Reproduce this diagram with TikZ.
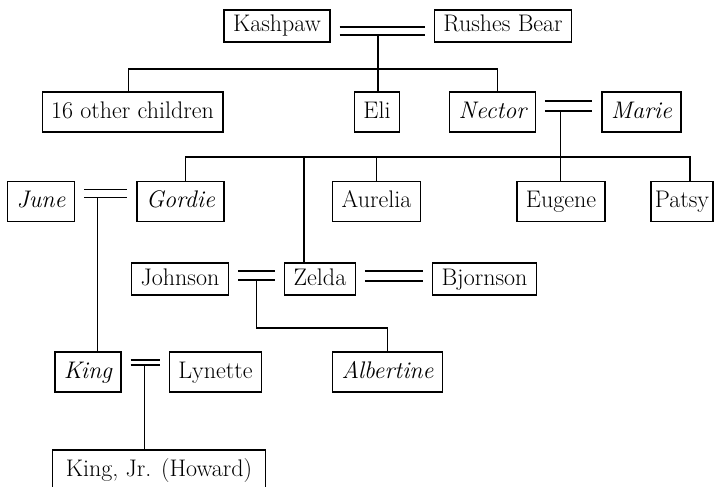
\documentclass[tikz,border=0pt]{standalone}
\usepackage{tikz}

\newcommand{\treefont}{\fontsize{24}{28}\selectfont}

\begin{document}
\begin{tikzpicture}[x=1pt, y=1pt, line width=1.3pt,
  person/.style={draw, font=\treefont, inner xsep=9pt, inner ysep=0pt,
                 text height=16pt, text depth=4pt, minimum height=32pt},
  tall/.style={person, minimum height=40pt},
  it/.style={font=\treefont\itshape},
  wed/.style={shorten <=9pt, shorten >=9pt}]

  % page frame
  \useasboundingbox (0,0) rectangle (718,-487);
  \clip (0,0) rectangle (718,-487);

  % First generation
  \node[person] (kashpaw) at (277,-26) {Kashpaw};
  \node[person] (rushes) at (503,-26) {Rushes Bear};

  % Second generation
  \node[tall] (other) at (132.5,-112) {16 other children};
  \node[tall] (eli) at (377,-112) {Eli};
  \node[tall, it] (nector) at (492.5,-112) {Nector};
  \node[tall, it] (marie) at (641.5,-112) {Marie};

  % Third generation
  \node[tall, it] (june) at (41,-201.5) {June};
  \node[tall, it] (gordie) at (180.5,-201.5) {Gordie};
  \node[tall] (aurelia) at (376.5,-201.5) {Aurelia};
  \node[tall] (eugene) at (561,-201.5) {Eugene};
  \node[tall, inner xsep=4pt] (patsy) at (682,-201.5) {Patsy};

  \node[person] (johnson) at (180,-279) {Johnson};
  \node[person] (zelda) at (320,-279) {Zelda};
  \node[person] (bjornson) at (484.5,-279) {Bjornson};

  % Fourth generation
  \node[tall, it] (king) at (88,-372) {King};
  \node[tall] (lynette) at (215.5,-372) {Lynette};
  \node[tall, it] (albertine) at (387.5,-372) {Albertine};

  \node[tall, inner xsep=13pt] (kingjr) at (159,-470) {King, Jr. (Howard)};

  % sibling bars and drop points
  \coordinate (barA) at (0,-69);
  \coordinate (barB) at (0,-157);
  \coordinate (barC) at (0,-328);
  \coordinate (od) at ([xshift=-4pt]other.north);
  \coordinate (nd) at ([xshift=5pt]nector.north);
  \coordinate (gd) at ([xshift=5pt]gordie.north);
  \coordinate (pd) at ([xshift=8pt]patsy.north);
  \coordinate (zd) at ([xshift=-16pt]zelda.north);

  % Kashpaw = Rushes Bear
  \draw[wed] ([yshift=-1pt]kashpaw.east) -- ([yshift=-1pt]rushes.west);
  \draw[wed] ([yshift=-9pt]kashpaw.east) -- ([yshift=-9pt]rushes.west)
    coordinate[pos=0.46] (kr);
  \draw (od) |- (barA -| nd) -- (nd);
  \draw (kr) -- (kr |- eli.north);

  % Nector = Marie
  \draw[wed] ([yshift=11pt]nector.east) -- ([yshift=11pt]marie.west);
  \draw[wed] ([yshift=1pt]nector.east) -- ([yshift=1pt]marie.west)
    coordinate[pos=0.38] (nm);
  \draw (gd) |- (barB -| pd) -- (pd);
  \draw (nm) -- (nm |- eugene.north);
  \draw (aurelia.north) -- (aurelia.north |- barB);
  \draw (zd |- barB) -- (zd);

  % June = Gordie
  \draw[wed] ([yshift=12pt]june.east) -- ([yshift=12pt]gordie.west);
  \draw[wed] ([yshift=4pt]june.east) -- ([yshift=4pt]gordie.west)
    coordinate[pos=0.36] (jg);
  \draw (jg) -- (jg |- king.north);

  % Johnson = Zelda = Bjornson
  \draw[wed] ([yshift=8pt]johnson.east) -- ([yshift=8pt]zelda.west);
  \draw[wed] ([yshift=-1pt]johnson.east) -- ([yshift=-1pt]zelda.west)
    coordinate[pos=0.5] (jz);
  \draw (jz) |- (barC -| albertine.north) -- (albertine.north);
  \draw[wed] ([yshift=8pt]zelda.east) -- ([yshift=8pt]bjornson.west);
  \draw[wed] ([yshift=-2pt]zelda.east) -- ([yshift=-2pt]bjornson.west);

  % King = Lynette
  \draw[wed] ([yshift=12pt]king.east) -- ([yshift=12pt]lynette.west);
  \draw[wed] ([yshift=7pt]king.east) -- ([yshift=7pt]lynette.west)
    coordinate[pos=0.49] (kl);
  \draw (kl) -- (kl |- kingjr.north);
\end{tikzpicture}
\end{document}
